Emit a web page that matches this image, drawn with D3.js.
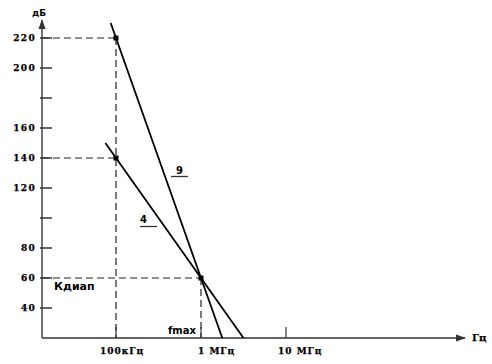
<!DOCTYPE html>
<html>
<head>
<meta charset="utf-8">
<script src="https://cdn.jsdelivr.net/npm/d3@7"></script>
<style>
  body { margin: 0; background: #fff; }
  svg { display: block; }
  .num { font-family: "DejaVu Serif", serif; font-weight: bold; font-size: 9px; letter-spacing: 1.3px; fill: #000; stroke: #000; stroke-width: 0.25px; }
  .lbl { font-family: "DejaVu Sans", sans-serif; font-weight: bold; font-size: 10px; fill: #000; }
</style>
</head>
<body>
<div id="chart"></div>
<script>
// --- data ---
const yTicks = [40, 60, 80, 100, 120, 140, 160, 180, 200, 220];
const yTickLabels = ["40", "60", "80", "", "120", "140", "160", "", "200", "220"];
const xTicks = [1e5, 1e6, 1e7];
const xTickLabels = ["100кГц", "1 МГц", "10 МГц"];

// curve "9" and curve "4": frequency (Hz) / gain (dB)
const line9Freq = [8.66e4, 1e5, 1e6, 1.78e6];
const line9Db = [230, 220, 60, 20];
const line4Freq = [7.5e4, 1e5, 1e6, 3.16e6];
const line4Db = [150, 140, 60, 20];

// marked points
const markFreq = [1e5, 1e5, 1e6];
const markDb = [220, 140, 60];

// --- layout ---
const width = 492, height = 364;
const axisX = 42, axisY = 338;

const x = d3.scaleLog().domain([1e5, 1e7]).range([116, 286]);
const y = d3.scaleLinear().domain([20, 220]).range([axisY, 38]);

const svg = d3.select("#chart").append("svg")
    .attr("width", width)
    .attr("height", height);

const defs = svg.append("defs");
defs.append("marker")
    .attr("id", "arrow")
    .attr("viewBox", "0 0 10 10")
    .attr("refX", 9).attr("refY", 5)
    .attr("markerWidth", 7).attr("markerHeight", 7)
    .attr("orient", "auto")
    .append("path")
    .attr("d", "M0,1.5 L10,5 L0,8.5 Z")
    .attr("fill", "#333");

// dashed guide lines
const guides = svg.append("g")
    .attr("stroke", "#222")
    .attr("stroke-width", 1.2)
    .attr("stroke-dasharray", "7,4")
    .attr("fill", "none");

markDb.forEach((db, i) => {
    guides.append("line")
        .attr("x1", axisX).attr("x2", x(markFreq[i]))
        .attr("y1", y(db)).attr("y2", y(db));
});
// verticals from the highest marked point of each frequency down to the axis
[1e5, 1e6].forEach(f => {
    const top = d3.max(markDb.filter((d, i) => markFreq[i] === f));
    guides.append("line")
        .attr("x1", x(f)).attr("x2", x(f))
        .attr("y1", y(top)).attr("y2", axisY);
});

// axes
svg.append("line")
    .attr("x1", axisX).attr("x2", axisX)
    .attr("y1", axisY).attr("y2", 20)
    .attr("stroke", "#444").attr("stroke-width", 1.5)
    .attr("marker-end", "url(#arrow)");
svg.append("line")
    .attr("x1", axisX).attr("x2", 465)
    .attr("y1", axisY).attr("y2", axisY)
    .attr("stroke", "#333").attr("stroke-width", 1.5)
    .attr("marker-end", "url(#arrow)");

// y ticks
const yt = svg.append("g");
yt.selectAll("line")
    .data(yTicks)
    .join("line")
    .attr("x1", axisX - 2).attr("x2", axisX + 10)
    .attr("y1", d => y(d)).attr("y2", d => y(d))
    .attr("stroke", "#333").attr("stroke-width", 1.5);
yt.selectAll("text")
    .data(yTicks)
    .join("text")
    .attr("class", "num")
    .attr("x", 36)
    .attr("y", d => y(d) + 3)
    .attr("text-anchor", "end")
    .text((d, i) => yTickLabels[i]);

// x ticks
const xLabelDx = [-16, -3, -8];
const xt = svg.append("g");
xt.selectAll("line")
    .data(xTicks)
    .join("line")
    .attr("x1", d => x(d)).attr("x2", d => x(d))
    .attr("y1", axisY).attr("y2", axisY - 11)
    .attr("stroke", "#333").attr("stroke-width", 1.2);
xt.selectAll("text")
    .data(xTicks)
    .join("text")
    .attr("class", "num")
    .attr("x", (d, i) => x(d) + xLabelDx[i])
    .attr("y", 354)
    .attr("text-anchor", "start")
    .style("letter-spacing", "1px")
    .text((d, i) => xTickLabels[i]);

// curves
const lineGen = d3.line().x(d => x(d[0])).y(d => y(d[1]));
[[line9Freq, line9Db], [line4Freq, line4Db]].forEach(([fs, dbs]) => {
    svg.append("path")
        .datum(fs.map((f, i) => [f, dbs[i]]))
        .attr("d", lineGen)
        .attr("fill", "none")
        .attr("stroke", "#000")
        .attr("stroke-width", 1.8);
});

// markers
svg.selectAll("rect.mark")
    .data(markDb)
    .join("rect")
    .attr("class", "mark")
    .attr("x", (d, i) => x(markFreq[i]) - 2.5)
    .attr("y", d => y(d) - 2.5)
    .attr("width", 5).attr("height", 5)
    .attr("fill", "#000");

// curve labels with underline
function curveLabel(text, lx, ly, ux1, ux2, uy) {
    svg.append("text").attr("class", "lbl").attr("x", lx).attr("y", ly).attr("font-size", 11).text(text);
    svg.append("line").attr("x1", ux1).attr("x2", ux2).attr("y1", uy).attr("y2", uy)
        .attr("stroke", "#333").attr("stroke-width", 1.3);
}
curveLabel("9", 176, 174, 171, 188, 176.5);
curveLabel("4", 140, 223, 140, 157, 226.5);

// other labels
svg.append("text").attr("class", "lbl").attr("x", 54).attr("y", 290).style("font-size", "11px").text("Кдиап");
svg.append("text").attr("class", "lbl").attr("x", 168).attr("y", 334).text("fmax");
svg.append("text").attr("class", "lbl").attr("x", 32).attr("y", 16).style("font-size", "9px").text("дБ");
svg.append("text").attr("class", "num").attr("x", 472).attr("y", 341)
    .style("font-size", "10px").style("letter-spacing", "0px").text("Гц");
</script>
</body>
</html>
